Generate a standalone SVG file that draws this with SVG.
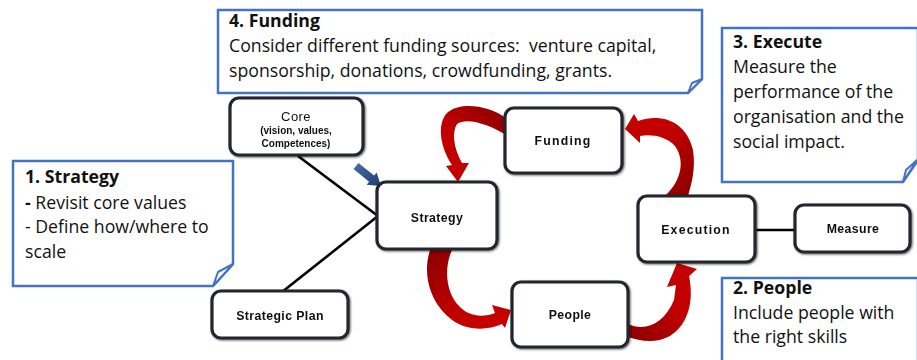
<svg xmlns="http://www.w3.org/2000/svg" width="917" height="360" viewBox="0 0 917 360">
<defs>
<style>
.call{fill:#fff;stroke:#4472c4;stroke-width:2.5}
.fold{fill:#fff;stroke:#4472c4;stroke-width:2;stroke-linejoin:round}
.ct{font-family:"Open Sans","Liberation Sans",sans-serif;font-size:17.7px;fill:#111}
.cb{font-weight:bold}
.node{fill:#fff;stroke:#20262e;stroke-width:3.2}
.nt{font-family:"Liberation Sans",Arial,sans-serif;font-size:12.3px;font-weight:bold;fill:#111;text-anchor:middle;letter-spacing:0.4px}
.ns{font-size:10px;letter-spacing:0}
.conn{stroke:#000;stroke-width:2.6;fill:none}
</style>
<filter id="sh" x="-10%" y="-10%" width="120%" height="120%">
<feGaussianBlur in="SourceAlpha" stdDeviation="1.2" result="b"/>
<feOffset dx="0.5" dy="1" result="o"/>
<feComponentTransfer><feFuncA type="linear" slope="0.6"/></feComponentTransfer>
<feMerge><feMergeNode/><feMergeNode in="SourceGraphic"/></feMerge>
</filter>
<linearGradient id="g1" x1="1" y1="0" x2="0" y2="1"><stop offset="0" stop-color="#8a0000"/><stop offset="0.6" stop-color="#c00000"/><stop offset="1" stop-color="#c80000"/></linearGradient>
<linearGradient id="g2" x1="0" y1="0" x2="1" y2="1"><stop offset="0" stop-color="#8a0000"/><stop offset="0.55" stop-color="#c00000"/><stop offset="1" stop-color="#c80000"/></linearGradient>
<linearGradient id="g3" x1="0" y1="1" x2="1" y2="0"><stop offset="0" stop-color="#8a0000"/><stop offset="0.55" stop-color="#c00000"/><stop offset="1" stop-color="#c80000"/></linearGradient>
<linearGradient id="g4" x1="1" y1="1" x2="0" y2="0"><stop offset="0" stop-color="#8a0000"/><stop offset="0.55" stop-color="#c00000"/><stop offset="1" stop-color="#c80000"/></linearGradient>
<linearGradient id="gb" x1="0" y1="0" x2="1" y2="1"><stop offset="0" stop-color="#4a6ea8"/><stop offset="1" stop-color="#1f3d6e"/></linearGradient>
</defs>
<rect width="917" height="360" fill="#fff"/>

<g id="connectors">
<line class="conn" x1="298" y1="156" x2="378" y2="216"/>
<line class="conn" x1="282" y1="292" x2="378" y2="216"/>
<line class="conn" x1="755" y1="230" x2="795" y2="230"/>
<path fill="url(#g1)" d="M506,118 C490,106 462,101 448,112 C437,122 439,145 452,165 L446,166 L458,182 L469,163 L462,163 C453,147 452,132 457,124 C467,117 490,125 506,135 Z"/>
<path fill="url(#g2)" d="M430,250 C422,275 430,305 455,322 C470,331 488,330 502,324 L505,328 L511,310 L492,305 L495,313 C482,318 468,316 459,306 C447,294 443,270 452,250 Z"/>
<path fill="url(#g3)" d="M628,324 C645,332 664,324 674,300 L676,285 L667,287 L677,263 L697,269 L689,276 C694,300 689,324 670,336 C655,344 640,341 628,337 Z"/>
<path fill="url(#g4)" d="M665,196 C682,180 685,160 675,146 C666,136 651,134 640,136 L640,143 L625,129 L634,114 L638,121 C660,113 686,120 693,150 C696,170 691,185 688,196 Z"/>
<polygon fill="url(#gb)" points="353.5,169.1 369.1,181.7 366.6,184.8 381,186 376.6,172.4 374.1,175.5 358.5,162.9"/>
</g>

<g id="callout-funding">
<path class="call" d="M218,10 H702 V79 L688,93 H218 Z"/>
<path class="fold" d="M688,93 L692,83 L702,79 Z"/>
<text class="ct" x="229" y="27"><tspan class="cb">4. Funding</tspan></text>
<text class="ct" x="229" y="52" xml:space="preserve">Consider different funding sources:  venture capital,</text>
<text class="ct" x="229" y="77">sponsorship, donations, crowdfunding, grants.</text>
</g>

<g id="callout-execute">
<path class="call" d="M722,28 H918 V160 L903,182 H722 Z"/>
<path class="fold" d="M903,182 L906,170 L917,160 Z"/>
<text class="ct" x="733" y="48"><tspan class="cb">3. Execute</tspan></text>
<text class="ct" x="733" y="73">Measure the</text>
<text class="ct" x="733" y="98">performance of the</text>
<text class="ct" x="733" y="123">organisation and the</text>
<text class="ct" x="733" y="148">social impact.</text>
</g>

<g id="callout-strategy">
<path class="call" d="M13,161 H233 V264 L213,286 H13 Z"/>
<path class="fold" d="M213,286 L218,272 L233,264 Z"/>
<text class="ct" x="25" y="183"><tspan class="cb">1. Strategy</tspan></text>
<text class="ct" x="25" y="209"><tspan class="cb">-</tspan> Revisit core values</text>
<text class="ct" x="25" y="233">- Define how/where to</text>
<text class="ct" x="25" y="258">scale</text>
</g>

<g id="callout-people">
<path class="call" d="M722,278 H918 V362 H722 Z"/>
<text class="ct" x="733" y="294"><tspan class="cb">2. People</tspan></text>
<text class="ct" x="733" y="319">Include people with</text>
<text class="ct" x="733" y="343">the right skills</text>
</g>

<g id="node-core" filter="url(#sh)">
<rect class="node" x="230" y="98" width="133" height="57" rx="9"/>
<text class="nt" x="296" y="121" style="font-weight:normal;font-size:13px">Core</text>
<text class="nt ns" x="296" y="134">(vision, values,</text>
<text class="nt ns" x="296" y="147">Competences)</text>
</g>
<g id="node-strategy" filter="url(#sh)">
<rect class="node" x="377" y="182" width="120" height="67" rx="9"/>
<text class="nt" x="437" y="222">Strategy</text>
</g>
<g id="node-strategic-plan" filter="url(#sh)">
<rect class="node" x="212" y="291" width="136" height="47" rx="9"/>
<text class="nt" x="280" y="320">Strategic Plan</text>
</g>
<g id="node-funding" filter="url(#sh)">
<rect class="node" x="505" y="108" width="117" height="65" rx="9"/>
<text class="nt" x="563" y="145" style="letter-spacing:1.2px">Funding</text>
</g>
<g id="node-people" filter="url(#sh)">
<rect class="node" x="512" y="282" width="116" height="65" rx="9"/>
<text class="nt" x="570" y="319">People</text>
</g>
<g id="node-execution" filter="url(#sh)">
<rect class="node" x="638" y="196" width="117" height="66" rx="9"/>
<text class="nt" x="696" y="234" style="letter-spacing:1.2px">Execution</text>
</g>
<g id="node-measure" filter="url(#sh)">
<rect class="node" x="795" y="205" width="115" height="47" rx="9"/>
<text class="nt" x="853" y="233">Measure</text>
</g>
</svg>
